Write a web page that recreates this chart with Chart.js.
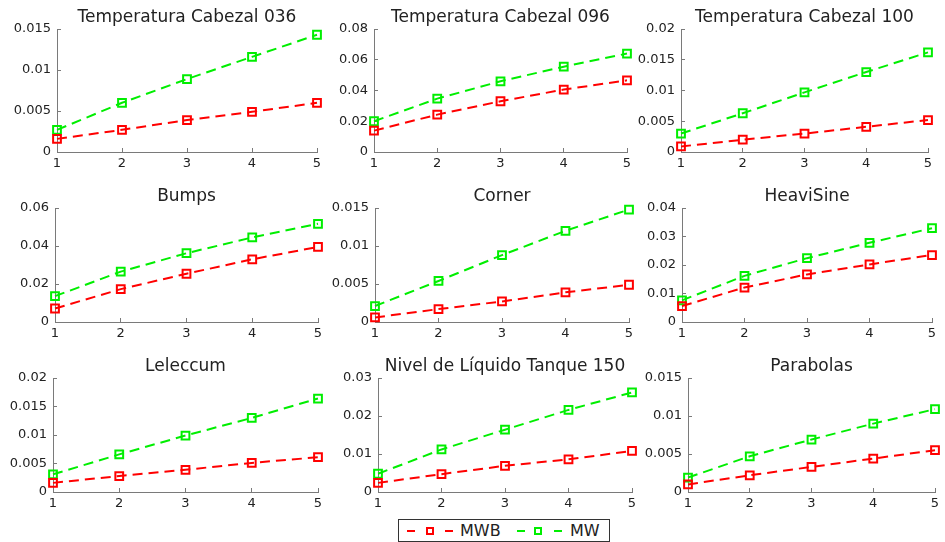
<!DOCTYPE html>
<html>
<head>
<meta charset="utf-8">
<script src="https://cdn.jsdelivr.net/npm/chart.js@4"></script>
<style>
  html, body { margin: 0; padding: 0; background: #fff; }
  #fig { position: relative; width: 945px; height: 542px; overflow: hidden; background: #fff; }
  #fig canvas { position: absolute; }
  .legend { position: absolute; left: 398px; top: 519px; width: 210px; height: 21px;
            border: 1px solid #333; background: #fff; font: 16px "DejaVu Sans", sans-serif; color: #222; }
  .legend .dash { position: absolute; top: 10px; width: 8px; height: 2px; }
  .legend .sq { position: absolute; top: 7px; width: 4px; height: 4px; border: 2px solid; }
  .legend .lbl { position: absolute; top: 1px; line-height: 19px; }
</style>
</head>
<body>
<div id="fig">
  <div class="legend">
    <div class="dash" style="left:8px;background:#ff0000"></div>
    <div class="sq" style="left:27px;border-color:#ff0000"></div>
    <div class="dash" style="left:46px;background:#ff0000"></div>
    <div class="lbl" style="left:61px">MWB</div>
    <div class="dash" style="left:118px;background:#00ee00"></div>
    <div class="sq" style="left:135px;border-color:#00ee00"></div>
    <div class="dash" style="left:155px;background:#00ee00"></div>
    <div class="lbl" style="left:171px">MW</div>
  </div>
</div>
<script>
// data
const categories = ['1', '2', '3', '4', '5'];
const titles = [
  'Temperatura Cabezal 036', 'Temperatura Cabezal 096', 'Temperatura Cabezal 100',
  'Bumps', 'Corner', 'HeaviSine',
  'Leleccum', 'Nivel de Líquido Tanque 150', 'Parabolas'
];
const mwbSeries = [
  [0.0016, 0.0027, 0.0039, 0.0049, 0.0060],
  [0.0139, 0.0243, 0.0330, 0.0406, 0.0466],
  [0.0009, 0.0020, 0.0030, 0.0041, 0.0052],
  [0.0071, 0.0173, 0.0254, 0.0330, 0.0395],
  [0.0006, 0.0017, 0.0027, 0.0039, 0.0049],
  [0.0056, 0.0121, 0.0167, 0.0202, 0.0235],
  [0.0016, 0.0028, 0.0039, 0.0051, 0.0061],
  [0.0024, 0.0047, 0.0069, 0.0086, 0.0108],
  [0.0010, 0.0022, 0.0033, 0.0044, 0.0055]
];
const mwSeries = [
  [0.0027, 0.0060, 0.0089, 0.0116, 0.0143],
  [0.0200, 0.0347, 0.0460, 0.0555, 0.0640],
  [0.0030, 0.0063, 0.0097, 0.0130, 0.0162],
  [0.0136, 0.0265, 0.0362, 0.0445, 0.0517],
  [0.0021, 0.0054, 0.0088, 0.0120, 0.0148],
  [0.0076, 0.0162, 0.0224, 0.0278, 0.0329],
  [0.0031, 0.0066, 0.0099, 0.0130, 0.0164],
  [0.0048, 0.0112, 0.0164, 0.0216, 0.0262],
  [0.0019, 0.0047, 0.0069, 0.0090, 0.0109]
];
const yMax = [0.015, 0.08, 0.02, 0.06, 0.015, 0.04, 0.02, 0.03, 0.015];
const yStep = [0.005, 0.02, 0.005, 0.02, 0.005, 0.01, 0.005, 0.01, 0.005];

// plot-area boxes [left, right, top, bottom] in page pixels
const boxes = [
  [57, 317, 29, 152], [374, 627, 29, 152], [681, 928, 29, 152],
  [55, 318, 208, 322], [375, 629, 208, 322], [682, 932, 208, 322],
  [53, 318, 378, 492], [378, 632, 378, 492], [688, 935, 378, 492]
];

const RED = '#ff0000', GREEN = '#00ee00';
const AXIS = '#7a7a7a', TEXT = '#222';
const FAMILY = '"DejaVu Sans", sans-serif';
const yW = 56, titleH = 29, xH = 22;
const fig = document.getElementById('fig');

function series(label, data, color) {
  return {
    label, data,
    borderColor: color, borderWidth: 2, borderDash: [10, 6],
    pointStyle: 'rect', pointRadius: 5.5, pointBorderWidth: 2,
    pointBorderColor: color, pointBackgroundColor: 'rgba(0,0,0,0)',
    tension: 0, clip: false
  };
}

boxes.forEach(([L, R, T, B], i) => {
  const w = (R - L) + 2 * yW, h = (B - T) + titleH + xH;
  const cv = document.createElement('canvas');
  cv.width = w; cv.height = h;
  cv.style.width = w + 'px'; cv.style.height = h + 'px';
  cv.style.left = (L - yW) + 'px'; cv.style.top = (T - titleH) + 'px';
  fig.appendChild(cv);

  const tickFont = { family: FAMILY, size: 13 };
  const grid = { display: true, drawOnChartArea: false, drawTicks: true, tickLength: -4, color: AXIS };

  new Chart(cv, {
    type: 'line',
    data: {
      labels: categories,
      datasets: [series('MWB', mwbSeries[i], RED), series('MW', mwSeries[i], GREEN)]
    },
    options: {
      responsive: false, animation: false, devicePixelRatio: 1,
      layout: { padding: 0 },
      plugins: {
        legend: { display: false },
        tooltip: { enabled: false },
        title: {
          display: true, text: titles[i], color: TEXT,
          font: { family: FAMILY, size: 17, weight: 'normal', lineHeight: 1.2 },
          padding: { top: 7, bottom: 1.6 }
        }
      },
      scales: {
        x: {
          grid, border: { color: AXIS, width: 1 },
          ticks: { font: tickFont, color: TEXT, padding: 8, maxRotation: 0, autoSkip: false },
          afterFit(s) { s.height = xH; }
        },
        y: {
          min: 0, max: yMax[i],
          grid, border: { color: AXIS, width: 1 },
          ticks: {
            stepSize: yStep[i], font: tickFont, color: TEXT, padding: 10,
            callback: v => String(+v.toFixed(6))
          },
          afterFit(s) { s.width = yW; }
        },
        // empty right-hand axis so the plot sits centred under its title
        spacer: {
          position: 'right', display: true,
          grid: { display: false }, border: { display: false }, ticks: { display: false },
          afterFit(s) { s.width = yW; }
        }
      }
    }
  });
});
</script>
</body>
</html>
